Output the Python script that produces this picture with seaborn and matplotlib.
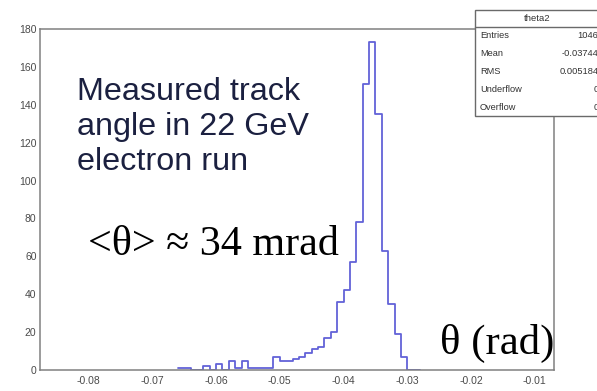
import numpy as np
import pandas as pd
import seaborn as sns
import matplotlib
matplotlib.use("Agg")
import matplotlib.pyplot as plt
from matplotlib.ticker import MultipleLocator, FormatStrFormatter
from matplotlib.patches import Rectangle
from matplotlib.lines import Line2D

# Histogram of the reconstructed track angle theta2 (bin width 1 mrad)
bin_width = 0.001
first_edge = -0.066
counts = [1, 1, 0, 0, 2, 0, 3, 0, 5, 1, 5, 1, 1, 1, 1,
          7, 5, 5, 6, 7, 9, 11, 12, 17, 20, 36, 42, 57, 78, 151,
          173, 135, 63, 35, 19, 7, 0, 0]

x_ticks = [-0.08, -0.07, -0.06, -0.05, -0.04, -0.03, -0.02, -0.01]
y_ticks = [0, 20, 40, 60, 80, 100, 120, 140, 160, 180]

stats_title = "theta2"
stats_names = ["Entries", "Mean", "RMS", "Underflow", "Overflow"]
stats_values = ["1046", "-0.03744", "0.005184", "0", "0"]

edges = [first_edge + bin_width * i for i in range(len(counts) + 1)]
centers = [0.5 * (a + b) for a, b in zip(edges[:-1], edges[1:])]
df = pd.DataFrame({"theta": centers, "n": counts})

sns.set_style("white")
plt.rcParams["axes.unicode_minus"] = False
plt.rcParams["font.family"] = ["Liberation Sans", "DejaVu Sans"]

W, H = 597, 391
fig = plt.figure(figsize=(W / 100, H / 100), dpi=100)


def fx(px):
    return px / W


def fy(py):
    return 1 - py / H


ax = fig.add_axes([fx(40), fy(370), (554 - 40) / W, (370 - 29) / H])

sns.histplot(data=df, x="theta", weights="n", bins=edges, element="step",
             fill=False, color="#6262d8", linewidth=1.3, ax=ax)

ax.set_xlim(-0.0876, -0.0070)
ax.set_ylim(0, 180)
ax.set_xlabel("")
ax.set_ylabel("")
ax.set_xticks(x_ticks)
ax.set_yticks(y_ticks)
ax.xaxis.set_minor_locator(MultipleLocator(0.002))
ax.yaxis.set_minor_locator(MultipleLocator(4))
ax.xaxis.set_major_formatter(FormatStrFormatter("%.2f"))
ax.yaxis.set_major_formatter(FormatStrFormatter("%d"))

ax.tick_params(which="both", direction="in", top=False, right=False,
               color="#7a7a7a", labelcolor="#4a4a4a", labelsize=7.5, width=1)
ax.tick_params(axis="y", which="major", length=11, pad=2.5)
ax.tick_params(axis="y", which="minor", length=5.5)
ax.tick_params(axis="x", which="major", length=5.5, pad=4.5)
ax.tick_params(axis="x", which="minor", length=2.7)
for s in ax.spines.values():
    s.set_color("#808080")
    s.set_linewidth(1.1)

# statistics box in the upper right corner
box_l, box_r, box_t, box_b, title_b = 475, 600, 10, 116, 27
fig.add_artist(Rectangle((fx(box_l), fy(box_b)), (box_r - box_l) / W,
                         (box_b - box_t) / H, transform=fig.transFigure,
                         facecolor="white", edgecolor="#6a6a6a", lw=1, zorder=5))
fig.add_artist(Line2D([fx(box_l), fx(box_r)], [fy(title_b), fy(title_b)],
                      transform=fig.transFigure, color="#6a6a6a", lw=1, zorder=6))
fig.text(fx((box_l + box_r) / 2), fy((box_t + title_b) / 2), stats_title,
         ha="center", va="center", fontsize=6.8, color="#333333", zorder=7)
row_h = (box_b - title_b) / len(stats_names)
for i, (name, val) in enumerate(zip(stats_names, stats_values)):
    yc = title_b + row_h * (i + 0.5)
    fig.text(fx(480), fy(yc), name, ha="left", va="center", fontsize=6.7,
             color="#333333", zorder=7)
    fig.text(fx(598.5), fy(yc), val, ha="right", va="center", fontsize=6.7,
             color="#333333", zorder=7)

# annotations
for text, yc in [("Measured track", 92), ("angle in 22 GeV", 127),
                 ("electron run", 162)]:
    fig.text(fx(77), fy(yc), text, ha="left", va="center", fontsize=23.3,
             color="#1b2040", family=["Liberation Sans", "DejaVu Sans"])

fig.text(fx(88), fy(245), "<θ> ≈ 34 mrad", ha="left", va="center",
         fontsize=30.3, color="black", family=["Liberation Serif", "DejaVu Serif"])
fig.text(fx(440), fy(343), "θ (rad)", ha="left", va="center",
         fontsize=30.8, color="black", family=["Liberation Serif", "DejaVu Serif"])

fig.savefig("out.png", dpi=100)
